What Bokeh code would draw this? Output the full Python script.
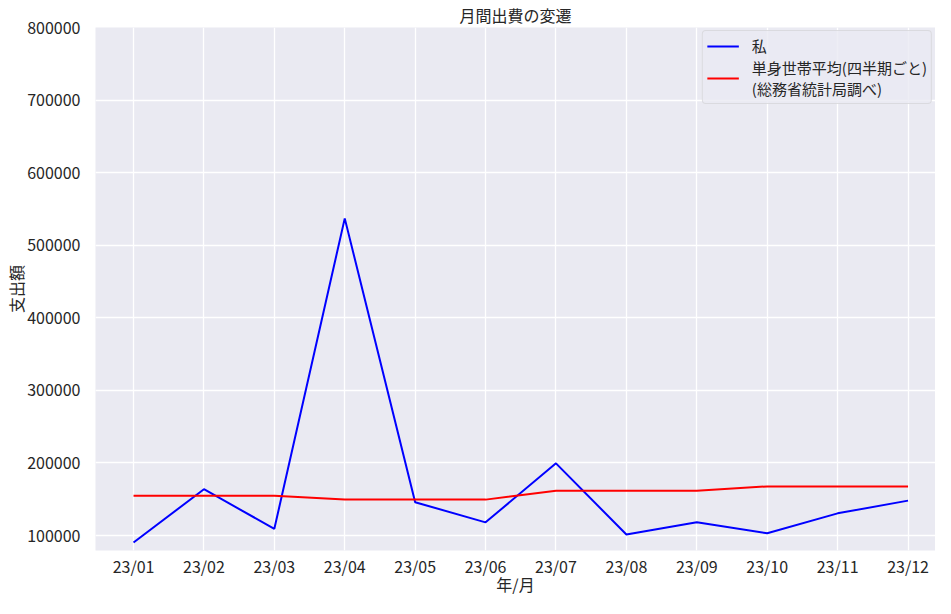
from bokeh.plotting import figure
from bokeh.models import FixedTicker, BasicTickFormatter, Range1d, Legend, LegendItem
from bokeh.embed import file_html
from bokeh.resources import INLINE

months = ["23/01", "23/02", "23/03", "23/04", "23/05", "23/06",
          "23/07", "23/08", "23/09", "23/10", "23/11", "23/12"]
my_spend = [90400, 163800, 109300, 537000, 145900, 118200,
            199500, 101400, 118300, 103100, 130600, 148100]
avg_single = [155000, 155000, 155000, 149500, 149500, 149500,
              161600, 161600, 161600, 167700, 167700, 167700]
y_ticks = [100000, 200000, 300000, 400000, 500000, 600000, 700000, 800000]

FONT = "Noto Sans CJK JP"
TXT = "#262626"
xs = list(range(len(months)))

p = figure(width=935, height=598, output_backend="svg", toolbar_location=None,
           x_range=Range1d(-0.54, 11.39),
           y_range=Range1d(79400, 800000),
           background_fill_color="#EAEAF2", border_fill_color="white",
           min_border_left=95, min_border_right=0, min_border_top=18, min_border_bottom=30)
p.outline_line_color = None

p.title.text = "月間出費の変遷"
p.title.align = "center"
p.title.text_font = FONT
p.title.text_font_size = "16px"
p.title.text_font_style = "normal"
p.title.text_color = TXT
p.title.standoff = 1

l1 = p.line(xs, my_spend, line_color="blue", line_width=2)
l2 = p.line(xs, avg_single, line_color="red", line_width=2)

for ax in (p.xaxis[0], p.yaxis[0]):
    ax.axis_line_color = None
    ax.major_tick_line_color = None
    ax.minor_tick_line_color = None
    ax.major_tick_out = 0
    ax.major_tick_in = 0
    ax.minor_tick_out = 0
    ax.minor_tick_in = 0
    ax.major_label_text_font = FONT
    ax.major_label_text_font_size = "16px"
    ax.major_label_text_color = TXT
    ax.axis_label_text_font = FONT
    ax.axis_label_text_font_size = "16px"
    ax.axis_label_text_font_style = "normal"
    ax.axis_label_text_color = TXT

p.xaxis.ticker = FixedTicker(ticks=xs)
p.xaxis.major_label_overrides = {i: m for i, m in enumerate(months)}
p.xaxis.axis_label = "年/月"
p.xaxis.major_label_standoff = 3
p.xaxis.axis_label_standoff = -9

p.yaxis.ticker = FixedTicker(ticks=y_ticks)
p.yaxis.formatter = BasicTickFormatter(use_scientific=False)
p.yaxis.axis_label = "支出額"
p.yaxis.major_label_standoff = 15
p.yaxis.axis_label_standoff = -4

p.xgrid.grid_line_color = "white"
p.ygrid.grid_line_color = "white"
p.xgrid.grid_line_width = 1.3
p.ygrid.grid_line_width = 1.3

legend = Legend(items=[
    LegendItem(label="私", renderers=[l1]),
    LegendItem(label="単身世帯平均(四半期ごと)\n(総務省統計局調べ)", renderers=[l2]),
], location="top_right")
legend.margin = 3
legend.padding = 4
legend.spacing = 1
legend.label_text_font = FONT
legend.label_text_font_size = "15px"
legend.label_text_line_height = 0.78
legend.label_text_color = TXT
legend.background_fill_color = "#EAEAF2"
legend.background_fill_alpha = 0.8
legend.border_line_color = "#CCCCCC"
legend.border_radius = 4
legend.glyph_width = 32
legend.label_standoff = 13
p.add_layout(legend)

open("out.html", "w").write(file_html(p, INLINE))
